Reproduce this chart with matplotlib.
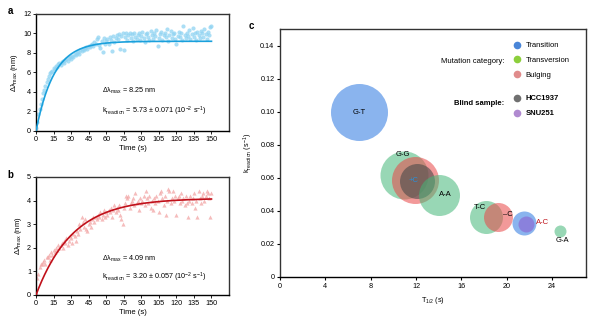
import numpy as np
import matplotlib
matplotlib.use("Agg")
import matplotlib.pyplot as plt
from matplotlib.lines import Line2D

plt.rcParams['font.family'] = ['Liberation Sans', 'DejaVu Sans']
plt.rcParams['mathtext.fontset'] = 'custom'
plt.rcParams['mathtext.rm'] = 'Liberation Sans'
plt.rcParams['mathtext.it'] = 'Liberation Sans'

# ---------------- data ----------------
time_a = list(range(0, 151))
shift_a = [0.3, 0.9, 1.7, 2.3, 2.8, 3.3, 3.9, 4.2, 4.6, 5.0,
           5.3, 5.6, 5.9, 6.1, 6.2, 6.5, 6.4, 6.7, 6.6, 6.9,
           7.0, 6.8, 7.1, 7.2, 7.0, 7.3, 7.4, 7.2, 7.5, 7.6,
           7.4, 7.7, 7.6, 7.9, 7.8, 8.0, 8.1, 7.9, 8.3, 8.2,
           8.4, 8.3, 8.5, 8.6, 8.4, 8.7, 8.6, 8.8, 8.9, 8.7,
           9.1, 8.9, 9.4, 9.6, 8.8, 8.5, 9.2, 8.1, 9.5, 8.9,
           9.2, 9.4, 8.9, 9.6, 9.3, 8.2, 9.7, 9.1, 9.5, 9.8,
           9.4, 9.9, 8.4, 9.7, 10.0, 8.3, 9.6, 10.1, 9.3, 9.8,
           10.0, 9.5, 9.9, 9.2, 10.1, 9.6, 9.4, 9.8, 10.0, 9.3,
           9.7, 10.2, 9.5, 9.1, 9.9, 10.0, 9.6, 9.3, 10.3, 9.8,
           9.4, 10.1, 9.7, 10.4, 8.7, 9.5, 9.9, 10.2, 9.3, 9.8,
           10.0, 9.6, 10.5, 9.2, 9.8, 10.3, 9.5, 9.9, 10.1, 9.4,
           8.9, 9.7, 10.2, 9.6, 10.0, 9.3, 10.8, 9.8, 9.5, 10.1,
           9.7, 10.4, 9.4, 9.9, 10.6, 9.6, 10.0, 9.3, 10.2, 9.8,
           9.5, 10.3, 10.0, 9.6, 10.5, 9.9, 9.4, 10.2, 9.8, 10.7,
           10.8]
fit_a_plateau = 9.2
fit_a_k = 0.065

time_b = list(range(0, 151))
shift_b = [0.1, 0.7, 0.9, 1.2, 1.3, 1.3, 1.4, 1.5, 1.3, 1.6,
           1.6, 1.7, 1.5, 1.8, 1.7, 1.9, 1.8, 2.0, 1.9, 2.1,
           2.0, 2.1, 2.2, 2.0, 2.3, 2.2, 2.4, 2.1, 2.3, 2.5,
           2.4, 2.2, 2.6, 2.5, 2.3, 2.7, 2.6, 3.0, 2.8, 3.3,
           3.1, 2.9, 3.2, 2.8, 2.7, 3.0, 3.1, 2.9, 3.2, 3.3,
           3.1, 3.3, 3.2, 3.4, 3.3, 3.5, 3.2, 3.4, 3.6, 3.3,
           3.5, 3.4, 3.6, 3.5, 3.7, 3.3, 3.6, 3.8, 3.5, 3.7,
           3.6, 3.8, 3.4, 3.2, 3.0, 3.7, 3.9, 4.2, 4.1, 4.2,
           3.7, 3.9, 4.0, 4.1, 3.8, 4.3, 3.9, 4.0, 3.6, 4.1,
           3.9, 4.0, 4.2, 3.8, 4.4, 4.1, 3.9, 4.2, 3.7, 4.0,
           3.6, 4.1, 3.9, 4.2, 4.0, 3.5, 4.3, 4.4, 4.1, 3.8,
           4.2, 3.4, 4.0, 4.5, 4.4, 3.9, 4.1, 4.4, 4.0, 4.2,
           3.4, 4.1, 4.2, 3.9, 4.3, 4.0, 4.1, 3.8, 4.2, 3.9,
           3.3, 4.0, 4.2, 3.9, 4.1, 4.3, 3.7, 4.0, 3.3, 4.4,
           4.1, 3.9, 4.2, 4.3, 4.0, 4.2, 4.4, 4.3, 4.1, 3.3,
           4.3]
fit_b_plateau = 4.1
fit_b_k = 0.032

# Panel c bubbles
bub_names = ['G-T', 'G-G', 'Bulge +C', 'HCC1937', 'A-A', 'T-C', '-C', 'A-C', 'SNU251', 'G-A']
bub_t12 = [7.0, 10.9, 11.95, 12.05, 14.07, 18.2, 19.2, 21.5, 21.7, 24.7]
bub_k = [0.100, 0.0616, 0.0586, 0.058, 0.0495, 0.0364, 0.0360, 0.0326, 0.0320, 0.0280]
bub_diam = [57, 48, 47, 35, 41, 33, 29, 24, 16, 12]
bub_cat = ['Transition', 'Transversion', 'Bulging', 'HCC1937', 'Transversion',
           'Transversion', 'Bulging', 'Transition', 'SNU251', 'Transversion']

lab_text = ['G-T', 'G-G', '+C', 'A-A', 'T-C', '\u2013C', 'A-C', 'G-A']
lab_x = [7.0, 10.88, 11.77, 14.6, 17.6, 20.1, 23.2, 24.9]
lab_y = [0.0996, 0.0743, 0.0586, 0.0502, 0.0423, 0.0375, 0.0327, 0.0218]
lab_col = ['black', 'black', '#2a8fd6', 'black', 'black', 'black', '#c0141c', 'black']

cat_fill = {'Transition': ('#3c82e3', 0.6), 'Transversion': ('#44b778', 0.55),
            'Bulging': ('#e94646', 0.55), 'HCC1937': ('#4a4a4a', 0.6),
            'SNU251': ('#8a5fd0', 0.6)}
legend_cols = {'Transition': '#4a86d8', 'Transversion': '#8ccf3c', 'Bulging': '#e08c8c',
               'HCC1937': '#707070', 'SNU251': '#b08ad0'}

# ---------------- figure ----------------
fig = plt.figure(figsize=(6.0, 3.22), dpi=100)
ax_a = fig.add_axes([0.06, 0.5932, 0.3217, 0.3634])
ax_b = fig.add_axes([0.06, 0.0839, 0.3217, 0.3665])
ax_c = fig.add_axes([0.4667, 0.1398, 0.51, 0.770])

tick_fs = 5.2


def style_kin(ax):
    for s in ax.spines.values():
        s.set_linewidth(1.0)
        s.set_color('#333333')
    ax.spines['bottom'].set_color('black')
    ax.spines['left'].set_color('black')
    ax.tick_params(labelsize=tick_fs, length=2, width=0.6, pad=1.5)
    ax.set_xlim(0, 165)
    ax.set_xticks(range(0, 151, 15))


tt = np.linspace(0, 150, 300)

# panel a
ax_a.scatter(time_a, shift_a, s=9, color='#8fd3f2', alpha=0.75, linewidths=0, zorder=2)
ax_a.plot(tt, fit_a_plateau * (1 - np.exp(-fit_a_k * tt)), color='#1aa0dc', lw=1.2, zorder=3)
style_kin(ax_a)
ax_a.set_ylim(0, 12)
ax_a.set_yticks(range(0, 13, 2))
ax_a.set_xlabel('Time (s)', fontsize=5.5, labelpad=1.5)
ax_a.set_ylabel(r'$\Delta\lambda_{\mathrm{max}}$ (nm)', fontsize=5.5, labelpad=2)
ax_a.text(56, 4.1, r'$\Delta\lambda_{\mathrm{max}}$ = 8.25 nm', fontsize=5.2, va='center')
ax_a.text(56, 2.05, r'k$_{\mathrm{reaction}}$ = 5.73 $\pm$ 0.071 (10$^{-2}$ s$^{-1}$)',
          fontsize=5.2, va='center')

# panel b
ax_b.scatter(time_b, shift_b, s=9, marker='^', color='#f2a6a6', alpha=0.75, linewidths=0, zorder=2)
ax_b.plot(tt, fit_b_plateau * (1 - np.exp(-fit_b_k * tt)), color='#c0101a', lw=1.2, zorder=3)
style_kin(ax_b)
ax_b.set_ylim(0, 5)
ax_b.set_yticks(range(0, 6))
ax_b.set_xlabel('Time (s)', fontsize=5.5, labelpad=1.5)
ax_b.set_ylabel(r'$\Delta\lambda_{\mathrm{max}}$ (nm)', fontsize=5.5, labelpad=2)
ax_b.text(56, 1.53, r'$\Delta\lambda_{\mathrm{max}}$ = 4.09 nm', fontsize=5.2, va='center')
ax_b.text(56, 0.76, r'k$_{\mathrm{reaction}}$ = 3.20 $\pm$ 0.057 (10$^{-2}$ s$^{-1}$)',
          fontsize=5.2, va='center')

# panel c
px_per_pt = fig.dpi / 72.0
for x, y, d, c in zip(bub_t12, bub_k, bub_diam, bub_cat):
    col, al = cat_fill[c]
    ax_c.scatter([x], [y], s=(d / px_per_pt) ** 2, color=col, alpha=al, linewidths=0, zorder=2)
for t, x, y, c in zip(lab_text, lab_x, lab_y, lab_col):
    ax_c.text(x, y, t, fontsize=5.5, color=c, ha='center', va='center', zorder=5)

ax_c.set_xlim(0, 27)
ax_c.set_ylim(0, 0.15)
ax_c.set_xticks(range(0, 25, 4))
ax_c.set_yticks([0, 0.02, 0.04, 0.06, 0.08, 0.10, 0.12, 0.14])
ax_c.set_yticklabels(['0', '0.02', '0.04', '0.06', '0.08', '0.10', '0.12', '0.14'])
for s in ax_c.spines.values():
    s.set_linewidth(1.0)
    s.set_color('#333333')
ax_c.spines['bottom'].set_color('black')
ax_c.tick_params(labelsize=tick_fs, length=2.5, width=0.8, pad=1.5)
ax_c.set_xlabel(r'T$_{1/2}$ (s)', fontsize=5.2, labelpad=4)
ax_c.set_ylabel(r'k$_{\mathrm{reaction}}$ (s$^{-1}$)', fontsize=5.2, labelpad=4)

h1 = [Line2D([], [], marker='o', ls='', markersize=5.5, markerfacecolor=legend_cols[k],
             markeredgewidth=0, label=k) for k in ['Transition', 'Transversion', 'Bulging']]
h2 = [Line2D([], [], marker='o', ls='', markersize=5.5, markerfacecolor=legend_cols[k],
             markeredgewidth=0, label=k) for k in ['HCC1937', 'SNU251']]
leg1 = ax_c.legend(handles=h1, loc='upper left', bbox_to_anchor=(0.745, 0.97), frameon=False,
                   fontsize=5.5, labelspacing=1.0, handletextpad=0.6, handlelength=1.0,
                   borderpad=0.2)
ax_c.add_artist(leg1)
leg2 = ax_c.legend(handles=h2, loc='upper left', bbox_to_anchor=(0.745, 0.755), frameon=False,
                   fontsize=5.5, labelspacing=1.0, handletextpad=0.6, handlelength=1.0,
                   borderpad=0.2)
for t in leg2.get_texts():
    t.set_fontweight('bold')
ax_c.text(0.732, 0.871, 'Mutation category:', transform=ax_c.transAxes, fontsize=5.5,
          ha='right', va='center')
ax_c.text(0.732, 0.698, 'Blind sample:', transform=ax_c.transAxes, fontsize=5.5,
          ha='right', va='center', fontweight='bold')

fig.text(0.013, 0.965, 'a', fontsize=7, fontweight='bold', va='center')
fig.text(0.013, 0.455, 'b', fontsize=7, fontweight='bold', va='center')
fig.text(0.415, 0.92, 'c', fontsize=7, fontweight='bold', va='center')

fig.savefig('out.png', dpi=100)
